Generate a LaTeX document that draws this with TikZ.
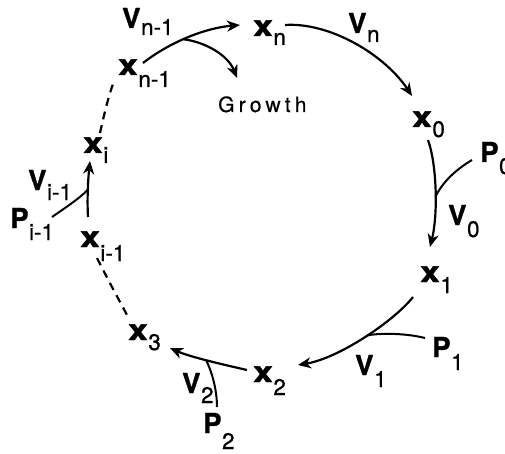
\documentclass[tikz,border=0pt]{standalone}
\usepackage{fontspec}
\usepackage{graphicx}
\setmainfont{TeX Gyre Heros}
\newfontfamily\heavyf[FakeBold=1.2]{TeX Gyre Heros}
\newfontfamily\subff[FakeBold=0.8]{TeX Gyre Heros}
\newfontfamily\gfont[LetterSpace=20,FakeBold=0.5]{TeX Gyre Heros}
\usetikzlibrary{arrows.meta}
\newcommand\mainf{\heavyf\fontsize{27.5}{27.5}\selectfont\bfseries}
\newcommand\subf{\subff\fontsize{22.5}{22.5}\selectfont\mdseries}
\newcommand\bigx{\scalebox{1.22}[1]{\heavyf\fontsize{29}{29}\selectfont\bfseries x}}
\newcommand\lab[3]{#1\hspace{0.5pt}\raisebox{-#3pt}{\subf #2}}
\begin{document}
\begin{tikzpicture}[x=1pt,y=-1pt,
  lbl/.style={inner sep=0pt, anchor=base west},
  conn/.style={line width=2.2pt, -{Stealth[length=13pt,width=11pt,inset=4pt]}},
  feed/.style={line width=2pt},
  dashline/.style={line width=2.2pt, dash pattern=on 8pt off 6pt}]
\useasboundingbox (0,0) rectangle (505,454);
% labels
\node[lbl] (vn1) at (122,28) {\lab{{\mainf V}}{n-1}{7}};
\node[lbl] (xn)  at (253,36) {\lab{\bigx}{n}{9}};
\node[lbl] (vn)  at (348,33) {\lab{{\mainf V}}{n}{9}};
\node[lbl] (xn1) at (118,75) {\lab{\bigx}{n-1}{12}};
\node[lbl] (growth) at (218,112) {\gfont\fontsize{21}{21}\selectfont Growth};
\node[lbl] (x0)  at (412,127) {\lab{\bigx}{0}{10}};
\node[lbl] (p0)  at (480,162) {\lab{{\mainf P}}{0}{12}};
\node[lbl] (v0)  at (448,225) {\lab{{\mainf V}}{0}{12}};
\node[lbl] (x1)  at (420,282) {\lab{\bigx}{1}{11}};
\node[lbl] (xi)  at (83,153)  {\lab{\bigx}{i}{10}};
\node[lbl] (vi1) at (28,190)  {\lab{{\mainf V}}{i-1}{10}};
\node[lbl] (pi1) at (10,228)  {\lab{{\mainf P}}{i-1}{12}};
\node[lbl] (xim1) at (80,247) {\lab{\bigx}{i-1}{14}};
\node[lbl] (x3)  at (128,340) {\lab{\bigx}{3}{10}};
\node[lbl] (x2)  at (253,382) {\lab{\bigx}{2}{13}};
\node[lbl] (v1)  at (355,375) {\lab{{\mainf V}}{1}{12}};
\node[lbl] (p1)  at (432,357) {\lab{{\mainf P}}{1}{13}};
\node[lbl] (v2)  at (182,393) {\lab{{\mainf V}}{2}{10}};
\node[lbl] (p2)  at (203,433) {\lab{{\mainf P}}{2}{16}};
% main cycle arrows
\draw[conn] ([shift={(25,-12)}]xn1.base west) .. controls (170,42) and (205,28) .. ([shift={(-13,-11)}]xn.base west) coordinate[pos=0.45] (jg);
\draw[conn] ([shift={(32,-11)}]xn.base west) .. controls (330,22) and (385,55) .. ([shift={(0,-31)}]x0.base west);
\draw[conn] ([shift={(16,13)}]x0.base west) .. controls (437,165) and (438,215) .. ([shift={(10,-35)}]x1.base west) coordinate[pos=0.55] (j0);
\draw[conn] ([shift={(-7,15)}]x1.base west) .. controls (395,320) and (340,358) .. ([shift={(45,-17)}]x2.base west) coordinate[pos=0.48] (j1);
\draw[conn] ([shift={(-6,-12)}]x2.base west) .. controls (225,365) and (190,357) .. ([shift={(42,8)}]x3.base west) coordinate[pos=0.52] (j2);
\draw[conn] ([shift={(8,-30)}]xim1.base west) .. controls (87,200) and (88,180) .. ([shift={(7,8)}]xi.base west) coordinate[pos=0.5] (ji);
% feeds
\draw[conn] (jg) .. controls (205,42) and (228,55) .. ([shift={(19,-34)}]growth.base west);
\draw[feed] ([shift={(-8,-2)}]p0.base west) .. controls (455,170) and (442,183) .. (j0);
\draw[feed] ([shift={(-7,-19)}]p1.base west) .. controls (405,333) and (380,333) .. (j1);
\draw[feed] ([shift={(14,-26)}]p2.base west) .. controls (217,390) and (212,372) .. (j2);
\draw[feed] ([shift={(42,-11)}]pi1.base west) .. controls (65,208) and (80,198) .. (ji);
% dashed parts
\draw[dashline] ([shift={(17,11)}]xim1.base west) .. controls (108,280) and (118,298) .. ([shift={(-1,-25)}]x3.base west);
\draw[dashline] ([shift={(17,-20)}]xi.base west) .. controls (104,115) and (108,98) .. ([shift={(-5,9)}]xn1.base west);
\end{tikzpicture}
\end{document}
